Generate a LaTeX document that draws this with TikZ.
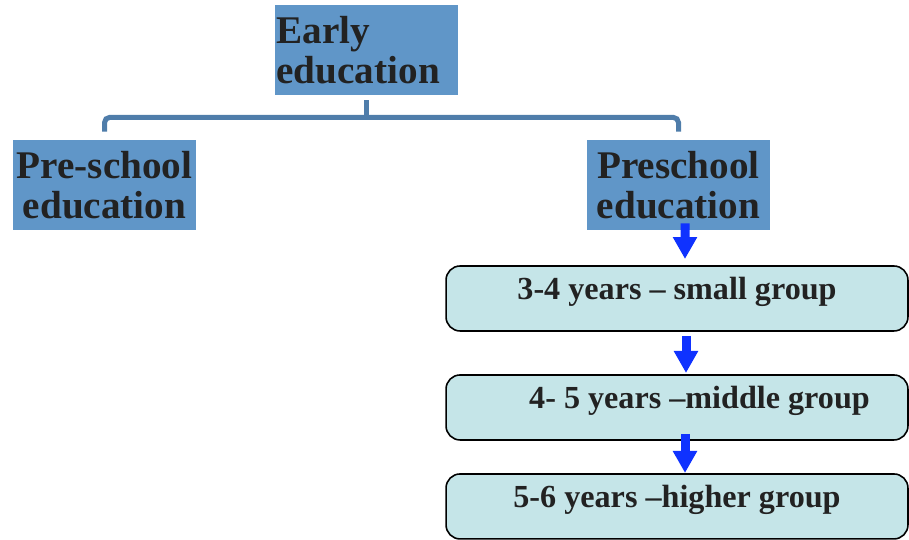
\documentclass[tikz,border=0pt]{standalone}
\usepackage{fontspec}
\setmainfont{Liberation Serif}
\usepackage{xcolor}
\usetikzlibrary{positioning,arrows.meta,calc}

\definecolor{headblue}{RGB}{96,150,200}
\definecolor{linkblue}{RGB}{79,125,170}
\definecolor{agecyan}{RGB}{197,229,232}
\definecolor{arrowblue}{RGB}{15,50,255}
\definecolor{inkgray}{RGB}{34,34,34}

\tikzset{
  head/.style={fill=headblue, text=inkgray, font=\fontsize{22.3}{23}\selectfont\bfseries,
    minimum width=3.66cm, minimum height=1.8cm, inner sep=0pt, align=center},
  agebox/.style={draw=black, line width=0.9pt, fill=agecyan, rounded corners=8pt,
    text=inkgray, font=\fontsize{18.3}{20}\selectfont\bfseries,
    minimum width=9.24cm, inner xsep=0pt, inner ysep=0pt, outer sep=0pt,
    text height=0.67cm, text depth=0.63cm},
  link/.style={draw=linkblue, line width=0.1cm, rounded corners=3pt},
  flow/.style={draw=arrowblue, line width=0.18cm, -{Triangle[width=0.46cm,length=0.44cm]}}
}

\begin{document}
\begin{tikzpicture}[x=0.02cm,y=-0.02cm]
    \useasboundingbox (0,0) rectangle (909,540);
    % top level
    \node[head, align=left, text width=3.6cm] (early) at (366.5,50) {Early\\education};
    \node[head] (preL) at (104.5,185) {Pre-school\\education};
    \node[head] (preR) at (678.5,185) {Preschool\\education};
    \coordinate (bar) at ($(early.south)+(0,22)$);
    \draw[link, shorten <=0.1cm] (early.south) -- (bar);
    \draw[link, shorten <=0.16cm, shorten >=0.16cm] (preL.north) |- (bar) -| (preR.north);
    % age groups
    \node[agebox, anchor=north] (small) at (677,266) {3-4 years -- small group};
    \node[agebox, below=0.88cm of small] (middle) {\hspace*{0.9cm}4- 5 years --middle group};
    \node[agebox, below=0.68cm of middle] (higher) {5-6 years --higher group};
    \draw[flow] ($(preR.south)+(6.5,-7)$) -- ($(small.north)+(8,-7)$);
    \draw[flow] ($(small.south)+(9,5)$) -- ($(middle.north)+(9,-2)$);
    \draw[flow] ($(middle.south)+(8,-6)$) -- ($(higher.north)+(8,-1)$);
\end{tikzpicture}
\end{document}
